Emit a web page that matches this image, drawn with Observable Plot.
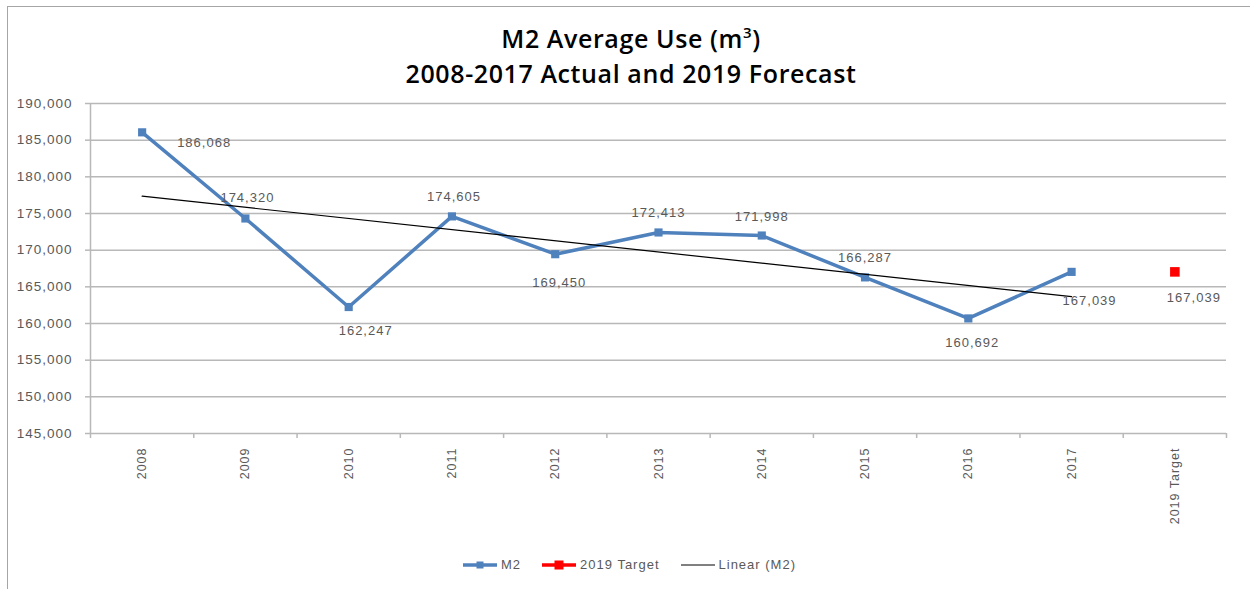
<!DOCTYPE html>
<html>
<head>
<meta charset="utf-8">
<script src="https://cdn.jsdelivr.net/npm/d3@7"></script>
<script src="https://cdn.jsdelivr.net/npm/@observablehq/plot@0.6"></script>
<style>
  html, body { margin: 0; padding: 0; background: #fff; }
  #chart { position: relative; width: 1250px; height: 589px; overflow: hidden; font-family: "Liberation Sans", Arial, sans-serif; }
  #frame { position: absolute; left: 7px; top: 6px; width: 1300px; height: 700px; border-left: 1px solid #a6a6a6; border-top: 1px solid #a6a6a6; }
  #title { position: absolute; top: 21px; left: 6px; width: 1250px; text-align: center; font-family: "Open Sans", sans-serif; font-weight: 600; font-size: 25px; letter-spacing: 0.6px; line-height: 35px; color: #000; }
  #plot { position: absolute; left: 0; top: 93px; }
  #plot svg text { letter-spacing: 1px; }
  #legend { position: absolute; top: 557px; left: 0; width: 1250px; display: flex; justify-content: center; padding-left: 8px; box-sizing: border-box; font-size: 13px; letter-spacing: 1px; color: #595959; }
  .item { display: flex; align-items: center; margin: 0 10px; }
  .item svg { margin-right: 3px; }
</style>
</head>
<body>
<div id="chart">
  <div id="frame"></div>
  <div id="title">M2 Average Use (m<sup style="font-size:15px;vertical-align:10px;line-height:0">3</sup>)<br>2008-2017 Actual and 2019 Forecast</div>
  <div id="plot"></div>
  <div id="legend"></div>
</div>
<script>
// ---- data ----
const categories = ["2008","2009","2010","2011","2012","2013","2014","2015","2016","2017","2019 Target"];
const m2Years = ["2008","2009","2010","2011","2012","2013","2014","2015","2016","2017"];
const m2Values = [186068, 174320, 162247, 174605, 169450, 172413, 171998, 166287, 160692, 167039];
const targetCategory = "2019 Target";
const targetValue = 167039;
const yTickValues = [145000,150000,155000,160000,165000,170000,175000,180000,185000,190000];

// ---- label nudges (style, pixels) ----
const m2LabelDx = [62, 2, 17, 2, 4, 0, 0, 0, 4, 18];
const m2LabelDy = [10, -21, 24, -20, 29, -20, -19, -20, 24, 29];
const targetLabelDx = 19, targetLabelDy = 26;

const fmt = d3.format(",");
const idx = c => categories.indexOf(c);
const m2 = m2Years.map((c, i) => ({i: idx(c), v: m2Values[i], dx: m2LabelDx[i], dy: m2LabelDy[i]}));
const target = [{i: idx(targetCategory), v: targetValue}];

const blue = "#4f81bd", red = "#ff0000", grey = "#595959", gridC = "#b8b8b8";
const n = categories.length;

const labelMarks = m2.map(d => Plot.text([d], {x: "i", y: "v", text: t => fmt(t.v), dx: d.dx, dy: d.dy, fill: grey, fontSize: 13}));

const plot = Plot.plot({
  width: 1250,
  height: 450,
  marginLeft: 90,
  marginRight: 24,
  marginTop: 10,
  marginBottom: 110,
  style: {fontFamily: "'Liberation Sans', Arial, sans-serif", background: "transparent"},
  x: {type: "linear", domain: [-0.5, n - 0.5]},
  y: {domain: [145000, 190000]},
  marks: [
    Plot.ruleY(yTickValues, {stroke: gridC, strokeWidth: 1.5}),
    Plot.ruleX([-0.5], {stroke: gridC, strokeWidth: 1.5}),
    Plot.axisY(yTickValues, {tickSize: 5, tickPadding: 13, tickFormat: fmt, fontSize: 13.5, fill: grey, stroke: gridC, strokeWidth: 1.5, label: null}),
    Plot.axisX(d3.range(n + 1).map(i => i - 0.5), {tickSize: 5, stroke: gridC, strokeWidth: 1.5, fill: "none", label: null}),
    Plot.axisX(d3.range(n), {tickSize: 0, tickPadding: 14, tickRotate: -90, tickFormat: i => categories[i], fontSize: 12.5, fill: grey, label: null}),
    Plot.line(m2, {x: "i", y: "v", stroke: blue, strokeWidth: 3.5}),
    Plot.dot(m2, {x: "i", y: "v", symbol: "square", r: 4.6, fill: blue, stroke: "none"}),
    Plot.linearRegressionY(m2, {x: "i", y: "v", stroke: "#000", strokeWidth: 1.2, ci: 0}),
    Plot.dot(target, {x: "i", y: "v", symbol: "square", r: 5.4, fill: red, stroke: "none"}),
    ...labelMarks,
    Plot.text(target, {x: "i", y: "v", text: d => fmt(d.v), dx: targetLabelDx, dy: targetLabelDy, fill: grey, fontSize: 13})
  ]
});
document.getElementById("plot").appendChild(plot);

// ---- legend ----
const legendItems = [
  {label: "M2", color: blue, width: 3.5, marker: 7},
  {label: "2019 Target", color: red, width: 3.5, marker: 9},
  {label: "Linear (M2)", color: "#000", width: 1, marker: 0}
];
const legend = d3.select("#legend");
for (const it of legendItems) {
  const item = legend.append("div").attr("class", "item");
  const s = item.append("svg").attr("width", 36).attr("height", 14);
  s.append("line").attr("x1", 1).attr("x2", 35).attr("y1", 7).attr("y2", 7).attr("stroke", it.color).attr("stroke-width", it.width);
  if (it.marker) s.append("rect").attr("x", 18 - it.marker / 2).attr("y", 7 - it.marker / 2).attr("width", it.marker).attr("height", it.marker).attr("fill", it.color);
  item.append("span").text(it.label);
}
</script>
</body>
</html>
